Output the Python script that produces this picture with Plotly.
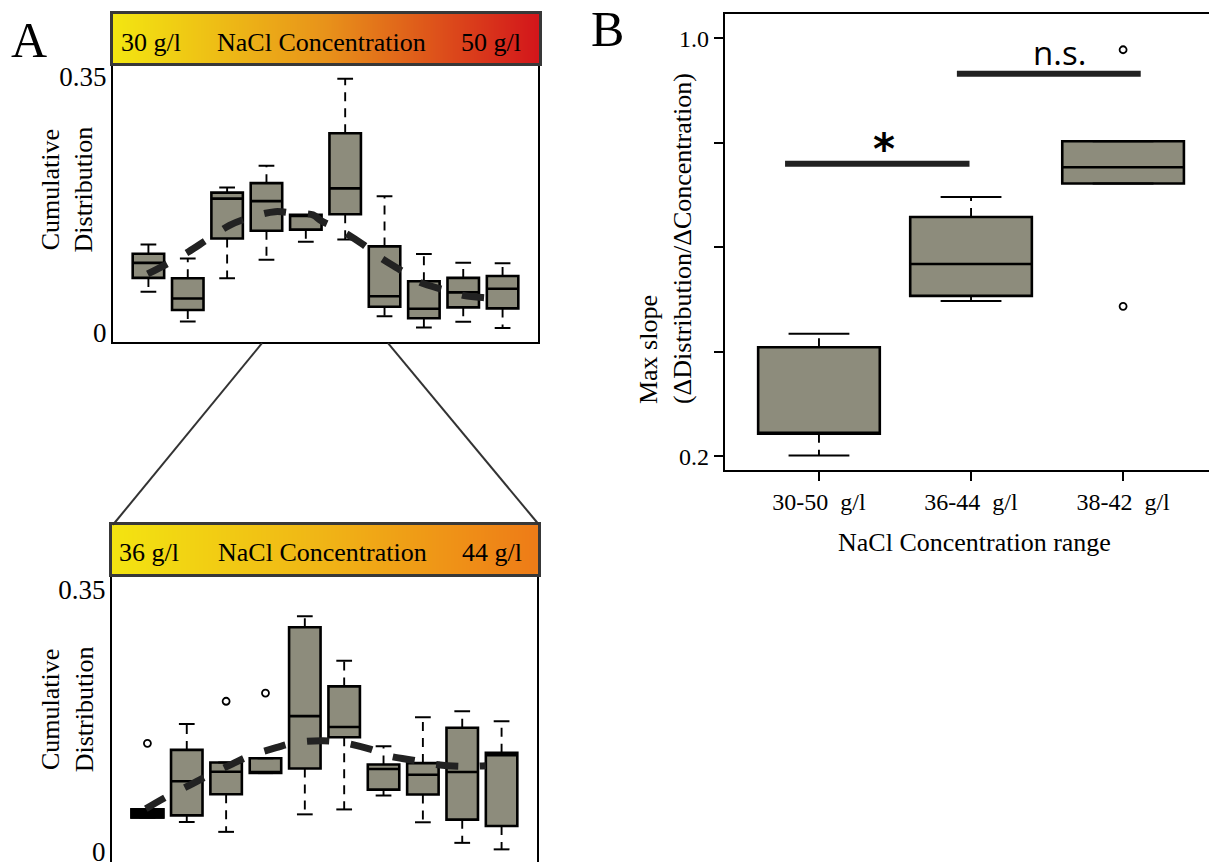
import plotly.graph_objects as go

W, H = 1209, 867
def PX(x): return x / W
def PY(y): return 1 - y / H

FONT = "Liberation Serif"
BOXFILL = "#8d8c7c"

# ---------------- Panel A (top): 30-50 g/l ----------------
top_pos = [1, 2, 3, 4, 5, 6, 7, 8, 9, 10]
top_lower = [0.0556, 0.0147, 0.0739, 0.0991, 0.1237, 0.1269, 0.0219, 0.0066, 0.0143, 0.0058]
top_q1 = [0.0744, 0.0304, 0.1283, 0.1390, 0.1404, 0.1614, 0.0349, 0.0192, 0.0341, 0.0327]
top_med = [0.0950, 0.0462, 0.1829, 0.1794, 0.1600, 0.1969, 0.0493, 0.0322, 0.0546, 0.0596]
top_q3 = [0.1075, 0.0739, 0.1910, 0.2040, 0.1606, 0.2723, 0.1175, 0.0699, 0.0744, 0.0771]
top_upper = [0.1202, 0.1008, 0.1982, 0.2279, 0.1606, 0.3467, 0.1861, 0.1071, 0.0950, 0.0946]
top_fit_x = [0.98, 1.43, 2.02, 2.47, 3.06, 3.52, 4.22, 4.71, 5.18, 5.39, 5.86, 6.45, 6.83, 7.43, 7.89, 8.57, 9.03, 9.75, 10.03]
top_fit_y = [0.0798, 0.0923, 0.1102, 0.1260, 0.1462, 0.1560, 0.1650, 0.1627, 0.1606, 0.1525, 0.1404, 0.1202, 0.1044, 0.0843, 0.0685, 0.0573, 0.0502, 0.0462, 0.0439]
top_conc = [30, 50]

# ---------------- Panel A (bottom): 36-44 g/l ----------------
bot_pos = [1, 2, 3, 4, 5, 6, 7, 8, 9, 10]
bot_lower = [0.0451, 0.0389, 0.0257, 0.1043, 0.0491, 0.0557, 0.0743, 0.0385, 0.0110, 0.0023]
bot_q1 = [0.0451, 0.0477, 0.0760, 0.1043, 0.1105, 0.1521, 0.0822, 0.0756, 0.0420, 0.0336]
bot_med = [0.0465, 0.0933, 0.1061, 0.1043, 0.1804, 0.1658, 0.1097, 0.1021, 0.1057, 0.1282]
bot_q3 = [0.0556, 0.1353, 0.1185, 0.1242, 0.2993, 0.2202, 0.1158, 0.1176, 0.1649, 0.1313]
bot_upper = [0.0556, 0.1698, 0.1185, 0.1242, 0.3139, 0.2546, 0.1402, 0.1790, 0.1870, 0.1737]
bot_out_x = [1, 3, 4]
bot_out_y = [0.1441, 0.2003, 0.2113]
bot_fit_x = [0.96, 1.42, 2.05, 2.50, 3.15, 3.60, 4.27, 4.76, 5.46, 5.98, 6.66, 7.12, 7.84, 8.38, 9.06, 9.60]
bot_fit_y = [0.0566, 0.0707, 0.0875, 0.0999, 0.1163, 0.1273, 0.1383, 0.1450, 0.1476, 0.1450, 0.1362, 0.1273, 0.1207, 0.1154, 0.1131, 0.1141]
bot_conc = [36, 44]

# ---------------- Panel B ----------------
b_labels = ["30-50\u00a0\u00a0g/l", "36-44\u00a0\u00a0g/l", "38-42\u00a0\u00a0g/l"]
b_pos = [1, 2, 3]
b_lower = [0.2017, 0.497, 0.722]
b_q1 = [0.2430, 0.507, 0.722]
b_med = [0.2440, 0.568, 0.753]
b_q3 = [0.4087, 0.658, 0.803]
b_upper = [0.4346, 0.696, 0.803]
b_out_x = [3, 3]
b_out_y = [0.978, 0.487]

fig = go.Figure()

def add_boxes(pos, lower, q1, med, q3, upper, xa, ya, lw=2.6, cap=0.2, fill=BOXFILL):
    fig.add_trace(go.Box(x=pos, q1=q1, median=med, q3=q3, lowerfence=q1, upperfence=q3,
                         width=0.8, fillcolor=fill, line=dict(color="black", width=lw),
                         whiskerwidth=0, boxpoints=False, xaxis=xa, yaxis=ya,
                         showlegend=False, hoverinfo="skip"))
    wx, wy, cx, cy = [], [], [], []
    for p, lo, a, b, up in zip(pos, lower, q1, q3, upper):
        wx += [p, p, None, p, p, None]
        wy += [b, up, None, a, lo, None]
        cx += [p - cap, p + cap, None, p - cap, p + cap, None]
        cy += [up, up, None, lo, lo, None]
    fig.add_trace(go.Scatter(x=wx, y=wy, mode="lines", line=dict(color="black", width=1.9, dash="9px,7px"),
                             xaxis=xa, yaxis=ya, showlegend=False, hoverinfo="skip"))
    fig.add_trace(go.Scatter(x=cx, y=cy, mode="lines", line=dict(color="black", width=2.0),
                             xaxis=xa, yaxis=ya, showlegend=False, hoverinfo="skip"))

def add_fit(xs, ys, xa, ya):
    fig.add_trace(go.Scatter(x=xs, y=ys, mode="lines", line=dict(color="#222222", width=7, dash="22px,22px", shape="spline"),
                             xaxis=xa, yaxis=ya, showlegend=False, hoverinfo="skip"))

def add_outliers(xs, ys, xa, ya):
    fig.add_trace(go.Scatter(x=xs, y=ys, mode="markers",
                             marker=dict(symbol="circle-open", size=7, color="black", line=dict(width=1.8)),
                             xaxis=xa, yaxis=ya, showlegend=False, hoverinfo="skip"))

# header gradients
fig.add_trace(go.Heatmap(x=top_conc, y=[0, 1], z=[top_conc, top_conc], zmin=30, zmax=50, zsmooth="best",
                         colorscale=[[0, "#f3e611"], [0.5, "#e8921a"], [1, "#d3151b"]],
                         showscale=False, xaxis="x2", yaxis="y2", hoverinfo="skip"))
fig.add_trace(go.Heatmap(x=bot_conc, y=[0, 1], z=[bot_conc, bot_conc], zmin=36, zmax=44, zsmooth="best",
                         colorscale=[[0, "#f3e411"], [0.5, "#f0b416"], [1, "#ee7b17"]],
                         showscale=False, xaxis="x4", yaxis="y4", hoverinfo="skip"))

add_boxes(top_pos, top_lower, top_q1, top_med, top_q3, top_upper, "x", "y")
add_fit(top_fit_x, top_fit_y, "x", "y")

add_boxes(bot_pos, bot_lower, bot_q1, bot_med, bot_q3, bot_upper, "x3", "y3")
# first (very narrow) box of the bottom panel appears solid black
add_boxes(bot_pos[:1], bot_lower[:1], bot_q1[:1], bot_med[:1], bot_q3[:1], bot_upper[:1], "x3", "y3", lw=3, fill="black")
add_outliers(bot_out_x, bot_out_y, "x3", "y3")
add_fit(bot_fit_x, bot_fit_y, "x3", "y3")

add_boxes(b_pos, b_lower, b_q1, b_med, b_q3, b_upper, "x5", "y5")
add_outliers(b_out_x, b_out_y, "x5", "y5")

tickfontA = dict(family=FONT, size=27, color="black")
tickfontB = dict(family=FONT, size=24, color="black")

fig.update_layout(
    width=W, height=H, margin=dict(l=0, r=0, t=0, b=0),
    paper_bgcolor="white", plot_bgcolor="white", showlegend=False,
    xaxis=dict(domain=[PX(113), PX(538)], range=[0.1, 10.9], showticklabels=False, ticks="",
               showgrid=False, zeroline=False, showline=True, mirror=True, linecolor="black", linewidth=2.2),
    yaxis=dict(domain=[PY(343), PY(62)], range=[-0.0136, 0.3677], tickvals=[0, 0.35], ticktext=["0", "0.35"],
               ticks="outside", ticklen=4, tickcolor="rgba(0,0,0,0)", tickfont=tickfontA, ticklabelstandoff=-5,
               showgrid=False, zeroline=False, showline=True, mirror=True, linecolor="black", linewidth=2.2, anchor="x"),
    xaxis2=dict(domain=[PX(113), PX(539)], range=top_conc, anchor="y2", showticklabels=False,
                ticks="", showgrid=False, zeroline=False, showline=True, mirror=True, linecolor="#383838", linewidth=2.5),
    yaxis2=dict(domain=[PY(62), PY(12)], range=[0, 1], anchor="x2", showticklabels=False, ticks="",
                showgrid=False, zeroline=False, showline=True, mirror=True, linecolor="#383838", linewidth=2.5),
    xaxis3=dict(domain=[PX(112), PX(537)], range=[0.1, 10.9], anchor="y3", showticklabels=False, ticks="",
                showgrid=False, zeroline=False, showline=False),
    yaxis3=dict(domain=[0, PY(577)], range=[-0.0146, 0.3700], anchor="x3", tickvals=[0, 0.35], ticktext=["0", "0.35"],
                ticks="outside", ticklen=4, tickcolor="rgba(0,0,0,0)", tickfont=tickfontA, ticklabelstandoff=-5,
                showgrid=False, zeroline=False, showline=True, mirror=True, linecolor="black", linewidth=2.2),
    xaxis4=dict(domain=[PX(112), PX(538)], range=bot_conc, anchor="y4", showticklabels=False, ticks="",
                showgrid=False, zeroline=False, showline=True, mirror=True, linecolor="#383838", linewidth=2.5),
    yaxis4=dict(domain=[PY(577), PY(527)], range=[0, 1], anchor="x4", showticklabels=False, ticks="",
                showgrid=False, zeroline=False, showline=True, mirror=True, linecolor="#383838", linewidth=2.5),
    xaxis5=dict(domain=[PX(725), 1.0], range=[0.382, 3.565], anchor="y5", tickvals=b_pos, ticktext=b_labels,
                ticks="outside", ticklen=9, tickwidth=1.8, tickcolor="black", tickfont=tickfontB,
                showgrid=False, zeroline=False, showline=True, mirror=True, linecolor="black", linewidth=2.2),
    yaxis5=dict(domain=[PY(472), PY(12)], range=[0.1734, 1.0466], anchor="x5",
                tickvals=[0.2, 0.4, 0.6, 0.8, 1.0], ticktext=["0.2", "", "", "", "1.0"],
                ticks="outside", ticklen=9, tickwidth=1.8, tickcolor="black", tickfont=tickfontB,
                showgrid=False, zeroline=False, showline=True, mirror=False, linecolor="black", linewidth=2.2),
)

ann = []
def txt(x, y, s, size, family=FONT, **kw):
    d = dict(x=PX(x), y=PY(y), xref="paper", yref="paper", text=s, showarrow=False,
             font=dict(family=family, size=size, color="black"), xanchor="center", yanchor="middle")
    d.update(kw)
    ann.append(d)

# headers
txt(151, 41, "30 g/l", 26)
txt(321, 41, "NaCl Concentration", 26)
txt(491, 41, "50 g/l", 26)
txt(149, 555, "36 g/l", 26)
txt(322, 555, "NaCl Concentration", 26)
txt(492, 555, "44 g/l", 26)
# panel labels
txt(29, 38, "A", 50)
txt(607, 27, "B", 50)
# y titles A
txt(67, 189, "Cumulative<br>Distribution", 26, textangle=-90)
txt(67, 713, "Cumulative<br>Distribution", 26, textangle=-90)
# panel B titles
txt(665, 239, "Max slope<br>(\u0394Distribution/\u0394Concentration)", 26, textangle=-90, align="left")
txt(975, 545, "NaCl Concentration range", 26)
# significance
ann.append(dict(x=1.43, y=0.787, xref="x5", yref="y5", text="<b>*</b>", showarrow=False,
                font=dict(family="DejaVu Sans", size=42, color="black"), xanchor="center", yanchor="middle"))
ann.append(dict(x=2.58, y=0.972, xref="x5", yref="y5", text="n.s.", showarrow=False,
                font=dict(family="Open Sans", size=33, color="black"), xanchor="center", yanchor="middle"))
fig.update_layout(annotations=ann)

shapes = [
    dict(type="line", xref="x5", yref="y5", x0=0.777, x1=1.99, y0=0.76, y1=0.76, line=dict(color="#222", width=6)),
    dict(type="line", xref="x5", yref="y5", x0=1.907, x1=3.116, y0=0.932, y1=0.932, line=dict(color="#222", width=6)),
    dict(type="line", xref="paper", yref="paper", x0=PX(262), y0=PY(344), x1=PX(113), y1=PY(527), line=dict(color="#333", width=2)),
    dict(type="line", xref="paper", yref="paper", x0=PX(388), y0=PY(344), x1=PX(539), y1=PY(527), line=dict(color="#333", width=2)),
]
fig.update_layout(shapes=shapes)

fig.write_html("out.html", config={"displayModeBar": False},
               post_script="document.body.style.margin='0';document.body.style.overflow='hidden';")
